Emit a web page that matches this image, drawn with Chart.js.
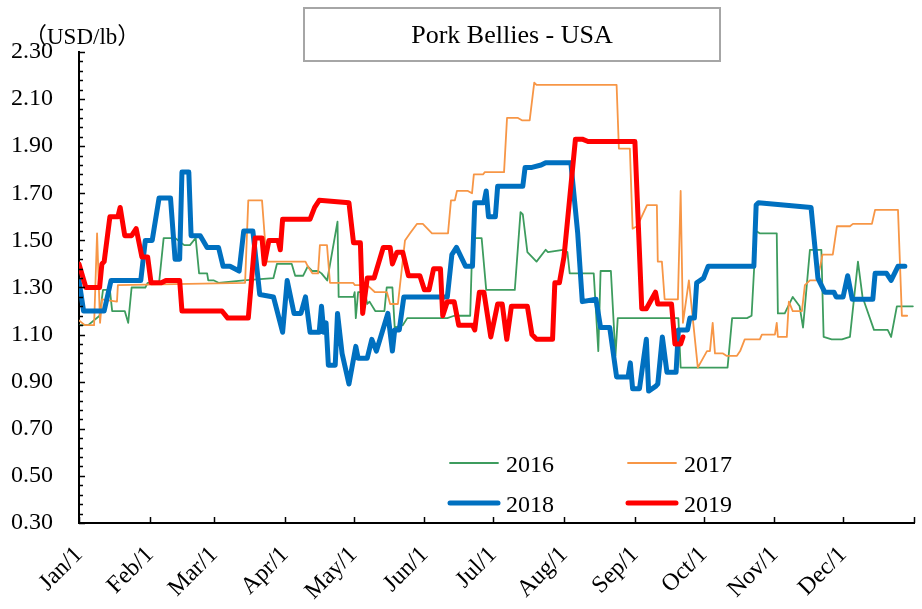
<!DOCTYPE html>
<html><head><meta charset="utf-8">
<script src="https://cdn.jsdelivr.net/npm/chart.js@4.4.0/dist/chart.umd.min.js"></script>
<style>html,body{margin:0;padding:0;background:#fff;}canvas{display:block;}</style>
</head><body>
<canvas id="c" width="922" height="609"></canvas>
<script>
// Tick categories (day of year at first of each month)
const monthTickDays = [0,31,59,90,120,151,181,212,243,273,304,334];
const monthTickLabels = ['Jan/1','Feb/1','Mar/1','Apr/1','May/1','Jun/1','Jul/1','Aug/1','Sep/1','Oct/1','Nov/1','Dec/1'];
const seriesNames = ['2016','2017','2018','2019'];

// Series: day-of-year and price (USD/lb)
const days2016 = [0,4,9,10.5,13.5,14.5,20,21.5,23,29,30,35,37,42,46,48.5,51,52.5,56,56.5,59,61,72,85,86.5,93,94.5,98,100,102,104.5,106,108.5,113,113.5,120,120.5,121,122,125,126,127,129.5,133.5,134.5,137,138,141.5,143.5,161,164,171,172,176,178,190.5,193,194,196,200,204,205,211.5,213.5,214.5,225,227,228,232.5,234.5,235.5,262,263,283.5,285.5,292,294,296,297.5,305,305.5,308.5,312,315,316.5,319.5,324.5,325.5,329,333.5,337,340.5,342.5,347.5,353.5,355,357.5,364.5];
const vals2016 = [1.14,1.14,1.18,1.29,1.29,1.20,1.20,1.15,1.30,1.30,1.32,1.32,1.51,1.51,1.48,1.48,1.51,1.36,1.36,1.33,1.33,1.32,1.33,1.34,1.40,1.40,1.35,1.35,1.39,1.37,1.37,1.36,1.33,1.58,1.26,1.26,1.28,1.17,1.28,1.28,1.23,1.24,1.20,1.20,1.30,1.30,1.13,1.14,1.17,1.17,1.18,1.18,1.51,1.51,1.29,1.29,1.62,1.61,1.45,1.41,1.46,1.45,1.46,1.45,1.36,1.36,1.03,1.37,1.37,1.01,1.17,1.17,0.96,0.96,1.17,1.17,1.18,1.54,1.53,1.53,1.19,1.19,1.26,1.22,1.13,1.46,1.46,1.09,1.08,1.08,1.09,1.41,1.26,1.12,1.12,1.09,1.22,1.22];

const days2017 = [0,2.6,6.6,7.9,9.2,10.1,16.6,17,72.6,74,80,82,99,100,102,104.5,105.3,108.4,109.7,119.8,120.6,126,129.4,134.6,136,139.4,142.5,144.7,147.7,150.3,154.3,161.3,162.6,164.3,165.2,170,171.8,172.6,176.6,177.4,185.8,187.1,191.9,193.6,197,199,200,235,236,240.8,242,244,248.3,252.6,253,254.8,256,261.8,263,264,266.6,270.5,274.5,275.8,277,278,281.5,283,287.6,289,291,297.6,298.5,304.2,305,305.5,309.4,310.3,312,316,317.3,319.5,322.6,324,325,329.5,331.3,337,338.3,346.6,348,358,359.7,362];
const vals2017 = [1.16,1.14,1.14,1.53,1.15,1.25,1.24,1.31,1.32,1.67,1.67,1.41,1.41,1.39,1.36,1.36,1.48,1.48,1.32,1.32,1.31,1.31,1.28,1.28,1.23,1.23,1.50,1.53,1.57,1.57,1.53,1.53,1.67,1.67,1.71,1.71,1.70,1.78,1.78,1.79,1.79,2.02,2.02,2.01,2.01,2.17,2.16,2.16,1.89,1.89,1.55,1.56,1.65,1.65,1.41,1.41,1.25,1.25,1.71,1.15,1.33,0.96,1.03,1.03,1.15,1.02,1.02,1.01,1.01,1.03,1.08,1.08,1.10,1.10,1.15,1.09,1.09,1.24,1.20,1.20,1.31,1.33,1.33,1.39,1.44,1.44,1.56,1.56,1.57,1.57,1.63,1.63,1.18,1.18];

const days2018 = [0,2,11,14,27,29,32,35,40,42,44,45,48,49,53,56,61,63,66,70,72,76,79,85,89,91,94,97,99,101,105,106,107,108,109,112,113,115,118,121,122,126,128,130,135,137,138,140,142,161,163,165,169,172,173,177,178,179,182,183,194,195,198,202,204,215,218,220,226,228,232,235,240,241,242,245,248,249,252,253,255,257,261,262,266,267,269,270,273,275,295,296,297,320,323,324,326,330,331,334,336,338,347,348,353,355,358,361];
const vals2018 = [1.33,1.20,1.20,1.33,1.33,1.50,1.50,1.68,1.68,1.42,1.42,1.79,1.79,1.52,1.52,1.47,1.47,1.39,1.39,1.37,1.54,1.54,1.27,1.26,1.11,1.33,1.19,1.19,1.26,1.11,1.11,1.22,1.11,1.15,0.97,0.97,1.19,1.02,0.89,1.05,1.00,1.00,1.08,1.03,1.19,1.03,1.12,1.12,1.26,1.26,1.44,1.47,1.39,1.39,1.66,1.66,1.71,1.60,1.60,1.73,1.73,1.81,1.81,1.82,1.83,1.83,1.53,1.24,1.25,1.13,1.13,0.92,0.92,0.98,0.87,0.87,1.08,0.86,0.88,0.89,1.09,0.94,0.94,1.12,1.12,1.17,1.17,1.32,1.34,1.39,1.39,1.65,1.66,1.64,1.34,1.32,1.28,1.28,1.26,1.26,1.35,1.25,1.25,1.36,1.36,1.33,1.39,1.39];

const days2019 = [0,3,9,10,11,13.5,17,18,20,23,25,27.5,30,31.5,36,38,44,45,62.5,65,74,77,80,81,83,87,88,89,101,103,105,118,120,123,124,126,129,133,136,137,139,141.5,144,149,151,153,155,158,159,161,164,166,172,173,175,177,180,183,185,187,189,196,198,200,207,208,210,212,217,220,222.5,243,246,248,252,253,259,260.5,263,264];
const vals2019 = [1.40,1.30,1.30,1.40,1.41,1.60,1.60,1.64,1.52,1.52,1.55,1.43,1.43,1.32,1.32,1.33,1.33,1.20,1.20,1.17,1.17,1.51,1.51,1.40,1.50,1.50,1.46,1.59,1.59,1.64,1.67,1.66,1.49,1.49,1.19,1.34,1.34,1.47,1.47,1.40,1.45,1.45,1.35,1.35,1.29,1.29,1.38,1.38,1.18,1.24,1.24,1.14,1.14,1.12,1.28,1.28,1.09,1.23,1.23,1.08,1.22,1.22,1.10,1.08,1.08,1.32,1.32,1.43,1.93,1.93,1.92,1.92,1.21,1.21,1.28,1.23,1.23,1.06,1.06,1.09];

const SERIF = '"Liberation Serif", "Times New Roman", serif';
const colors = ['#3D9C5E', '#F79646', '#0070C0', '#FF0000'];
const widths = [1.8, 1.8, 5, 5];

function pts(d, v) { return d.map((x, i) => ({x: x, y: v[i]})); }
const allDays = [days2016, days2017, days2018, days2019];
const allVals = [vals2016, vals2017, vals2018, vals2019];

const datasets = seriesNames.map((name, i) => ({
  label: name,
  data: pts(allDays[i], allVals[i]),
  borderColor: colors[i],
  backgroundColor: colors[i],
  borderWidth: widths[i],
  pointRadius: 0,
  tension: 0,
  fill: false,
  borderJoinStyle: 'round',
  borderCapStyle: 'round',
  order: 4 - i
}));

const deco = {
  id: 'deco',
  afterDraw(chart) {
    const ctx = chart.ctx, xs = chart.scales.x, ys = chart.scales.y;
    const a = chart.chartArea;
    ctx.save();
    // inward tick marks
    ctx.strokeStyle = '#000';
    ctx.lineWidth = 1.5;
    for (let i = 0; i <= 50; i++) {
      const v = 0.30 + i * 0.04;
      const py = Math.round(ys.getPixelForValue(v)) + 0.5;
      const len = (i % 5 === 0) ? 6 : 4;
      ctx.beginPath(); ctx.moveTo(a.left, py); ctx.lineTo(a.left + len, py); ctx.stroke();
    }
    monthTickDays.concat([365]).forEach(d => {
      const px = Math.round(xs.getPixelForValue(d)) + 0.5;
      ctx.beginPath(); ctx.moveTo(px, a.bottom); ctx.lineTo(px, a.bottom - 6); ctx.stroke();
    });
    // legend (2 x 2, inside plot)
    const legPos = [[448, 463], [626, 463], [448, 503], [626, 503]];
    ctx.font = '24px ' + SERIF;
    ctx.fillStyle = '#000';
    ctx.textAlign = 'left';
    ctx.textBaseline = 'alphabetic';
    chart.data.datasets.forEach((ds, i) => {
      const [lx, ly] = legPos[i];
      ctx.strokeStyle = ds.borderColor;
      ctx.lineWidth = ds.borderWidth;
      ctx.lineCap = 'round';
      ctx.beginPath(); ctx.moveTo(lx + 2, ly); ctx.lineTo(lx + 50, ly); ctx.stroke();
      ctx.fillText(ds.label, lx + 58, ly + 9);
    });
    // unit label
    ctx.font = '23px ' + SERIF + ', "Noto Sans CJK JP"';
    const pw = ctx.measureText('（').width;
    ctx.fillText('（USD/lb）', 47 - pw, 44);
    // title box
    ctx.fillStyle = '#fff';
    ctx.fillRect(304, 8, 416, 53);
    ctx.strokeStyle = '#A6A6A6';
    ctx.lineWidth = 2;
    ctx.lineCap = 'butt';
    ctx.strokeRect(304, 8, 416, 53);
    ctx.fillStyle = '#000';
    ctx.font = '26px ' + SERIF;
    ctx.textAlign = 'center';
    ctx.fillText('Pork Bellies - USA', 512, 43);
    ctx.restore();
  }
};

new Chart(document.getElementById('c'), {
  type: 'line',
  data: { datasets: datasets },
  options: {
    responsive: false,
    devicePixelRatio: 1,
    animation: false,
    layout: { padding: { top: 52, right: 8, left: 0, bottom: 0 } },
    plugins: { legend: { display: false }, tooltip: { enabled: false }, title: { display: false } },
    scales: {
      x: {
        type: 'linear', min: 0, max: 365,
        afterBuildTicks: s => { s.ticks = monthTickDays.concat([365]).map(v => ({ value: v })); },
        afterFit: s => { s.height = 86; s.paddingRight = 0; s.paddingLeft = 0; },
        grid: { display: false, drawTicks: false },
        border: { display: true, color: '#000', width: 2 },
        ticks: {
          autoSkip: false, minRotation: 45, maxRotation: 45, padding: 18,
          color: '#000', font: { family: SERIF, size: 24 },
          callback: v => { const i = monthTickDays.indexOf(v); return i >= 0 ? monthTickLabels[i] : ''; }
        }
      },
      y: {
        min: 0.30, max: 2.30,
        afterBuildTicks: s => { const t = []; for (let i = 0; i <= 10; i++) t.push({ value: 0.30 + i * 0.20 }); s.ticks = t; },
        afterFit: s => { s.width = 79; s.paddingTop = 0; s.paddingBottom = 0; },
        grid: { display: false, drawTicks: false },
        border: { display: true, color: '#000', width: 2 },
        ticks: {
          padding: 26, color: '#000', font: { family: SERIF, size: 24 },
          callback: v => Number(v).toFixed(2)
        }
      }
    }
  },
  plugins: [deco]
});
</script>
</body></html>
